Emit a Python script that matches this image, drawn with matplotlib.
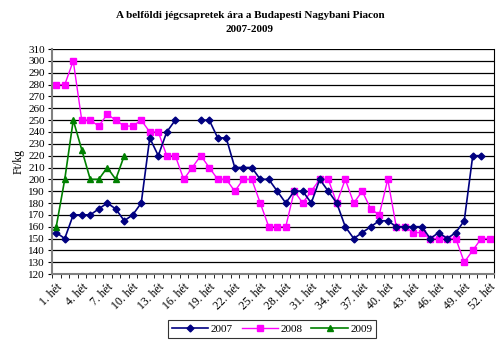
import numpy as np
import matplotlib.pyplot as plt
from matplotlib.ticker import MultipleLocator, FixedLocator

# heti átlagárak (Ft/kg), None = nincs adat
weeks = list(range(1, 53))
price_2007 = [155, 150, 170, 170, 170, 175, 180, 175, 165, 170,
              180, 235, 220, 240, 250, None, None, 250, 250, 235,
              235, 210, 210, 210, 200, 200, 190, 180, 190, 190,
              180, 200, 190, 180, 160, 150, 155, 160, 165, 165,
              160, 160, 160, 160, 150, 155, 150, 155, 165, 220,
              220, None]
price_2008 = [280, 280, 300, 250, 250, 245, 255, 250, 245, 245,
              250, 240, 240, 220, 220, 200, 210, 220, 210, 200,
              200, 190, 200, 200, 180, 160, 160, 160, 190, 180,
              190, 200, 200, 180, 200, 180, 190, 175, 170, 200,
              160, 160, 155, 155, 150, 150, 150, 150, 130, 140,
              150, 150]
price_2009 = [160, 200, 250, 225, 200, 200, 210, 200, 220]

labels = [f"{w}. hét" for w in weeks[::3]]

def to_arr(vals):
    return np.array([np.nan if v is None else v for v in vals], dtype=float)

plt.rcParams['font.family'] = ['Liberation Serif', 'DejaVu Serif']

fig = plt.figure(figsize=(5, 3.46), dpi=100)
ax = fig.add_axes([0.104, 0.208, 0.884, 0.650])

ax.plot(weeks, to_arr(price_2007), color='#000080', lw=1.2, marker='D',
        ms=3.5, label='2007', zorder=3)
ax.plot(weeks, to_arr(price_2008), color='#FF00FF', lw=1.0, marker='s',
        ms=5, label='2008', zorder=2)
ax.plot(weeks[:len(price_2009)], to_arr(price_2009), color='#008000', lw=1.2,
        marker='^', ms=5, label='2009', zorder=4)

ax.set_xlim(0.5, 52.5)
ax.set_ylim(120, 310)
ax.yaxis.set_major_locator(MultipleLocator(10))
ax.grid(axis='y', color='black', lw=0.9)
ax.set_axisbelow(True)

ax.xaxis.set_major_locator(FixedLocator(weeks[::3]))
ax.set_xticklabels(labels, rotation=45, ha='right', rotation_mode='anchor')
ax.xaxis.set_minor_locator(FixedLocator(np.arange(0.5, 53, 1)))
ax.tick_params(axis='x', which='major', length=0, labelsize=8.5, pad=5)
ax.tick_params(axis='x', which='minor', length=3, color='black')
ax.tick_params(axis='y', length=3, labelsize=8, pad=2)

ax.spines['top'].set_visible(False)
ax.spines['left'].set_color('#808080')
ax.spines['left'].set_linewidth(1.5)
ax.spines['bottom'].set_color('#808080')
ax.spines['bottom'].set_linewidth(1.5)
ax.spines['right'].set_color('black')

ax.set_ylabel('Ft/kg', fontsize=8.5, labelpad=3)

fig.text(0.5, 0.955, 'A belföldi jégcsapretek ára a Budapesti Nagybani Piacon',
         ha='center', va='center', fontsize=8, fontweight='bold')
fig.text(0.5, 0.915, '2007-2009', ha='center', va='center', fontsize=8,
         fontweight='bold')

leg = fig.legend(loc='center', bbox_to_anchor=(0.544, 0.049), ncol=3,
                 fontsize=8, frameon=True, fancybox=False, edgecolor='black',
                 handlelength=3.3, columnspacing=0.8, borderpad=0.35,
                 handletextpad=0.2)
leg.get_frame().set_linewidth(0.8)

fig.savefig('out.png', dpi=100)
